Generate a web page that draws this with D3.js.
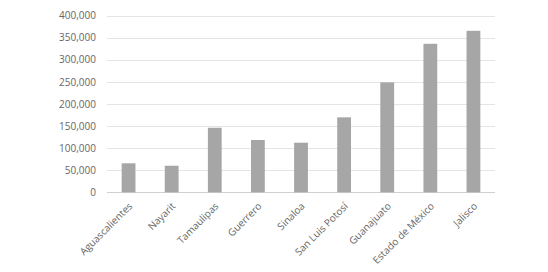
<!DOCTYPE html>
<html><head><meta charset="utf-8">
<script src="https://cdn.jsdelivr.net/npm/d3@7"></script>
<style>body{margin:0;background:#fff;} svg text{font-family:"Open Sans",sans-serif;fill:#666666;}</style>
</head><body>
<svg id="c" width="548" height="272"></svg>
<script>
const categories = ["Aguascalientes","Nayarit","Tamaulipas","Guerrero","Sinaloa","San Luis Potosí","Guanajuato","Estado de México","Jalisco"];
const values = [65600, 60100, 146000, 118300, 112200, 169600, 248700, 336000, 365400];
const yTicks = [0,50000,100000,150000,200000,250000,300000,350000,400000];

const svg = d3.select("#c");
const mLeft = 107, mRight = 495, mTop = 15.5, mBottom = 192.3;
const x = d3.scaleBand().domain(categories).range([mLeft, mRight]).paddingInner(0.68).paddingOuter(0.34);
const y = d3.scaleLinear().domain([0, 400000]).range([mBottom, mTop]);
const fmt = d3.format(",");

svg.append("g").selectAll("line").data(yTicks).join("line")
  .attr("x1", mLeft).attr("x2", mRight)
  .attr("y1", d => Math.round(y(d)) + 0.5).attr("y2", d => Math.round(y(d)) + 0.5)
  .attr("stroke", d => d === 0 ? "#d0d0d0" : "#e4e4e4").attr("stroke-width", 1);

const yAxis = svg.append("g").attr("transform", `translate(${mLeft},0)`)
  .call(d3.axisLeft(y).tickValues(yTicks).tickFormat(fmt).tickSize(0).tickPadding(11));
yAxis.select(".domain").remove();
yAxis.selectAll("text").style("font-size", "10px").style("fill", "#666666");

svg.append("g").selectAll("rect").data(categories).join("rect")
  .attr("x", d => x(d)).attr("width", x.bandwidth())
  .attr("y", (d, i) => y(values[i])).attr("height", (d, i) => y(0) - y(values[i]))
  .attr("fill", "#a6a6a6");

svg.append("g").selectAll("text").data(categories).join("text")
  .attr("transform", d => `translate(${x(d) + x.bandwidth()/2 + 2},${mBottom + 12}) rotate(-45)`)
  .attr("text-anchor", "end").attr("dy", "0.35em")
  .style("font-size", "10px")
  .text(d => d);
</script>
</body></html>
